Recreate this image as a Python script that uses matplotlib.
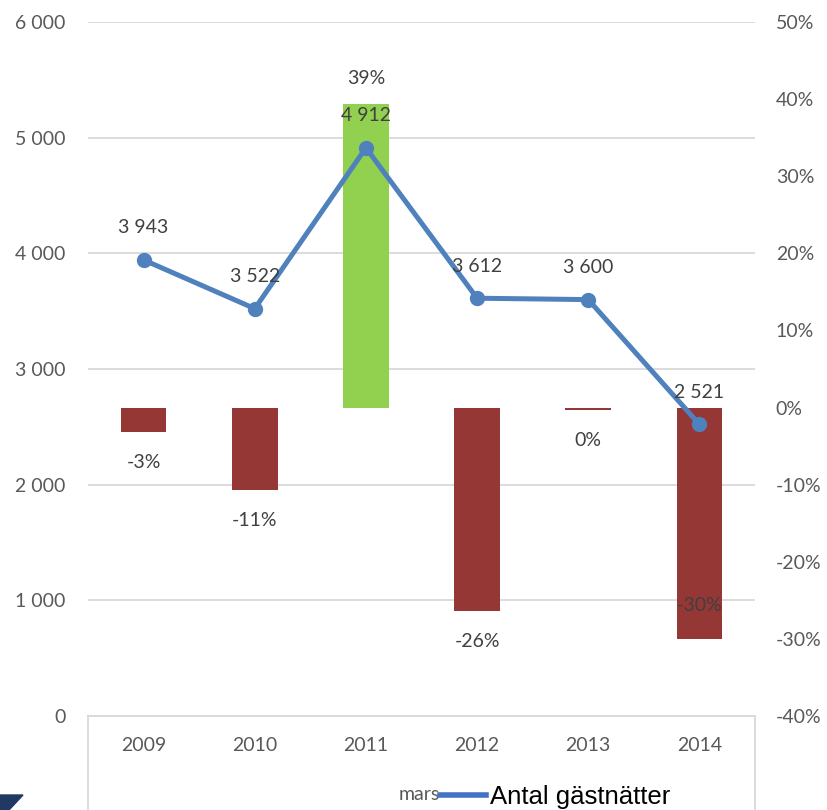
import matplotlib
matplotlib.use('Agg')
import matplotlib.pyplot as plt
from matplotlib.lines import Line2D
from matplotlib.patches import Polygon

# data
years = ['2009', '2010', '2011', '2012', '2013', '2014']
nights = [3943, 3522, 4912, 3612, 3600, 2521]
change = [-0.032, -0.107, 0.394, -0.264, -0.003, -0.300]
left_ticks = [0, 1000, 2000, 3000, 4000, 5000, 6000]
right_ticks = [-0.4, -0.3, -0.2, -0.1, 0.0, 0.1, 0.2, 0.3, 0.4, 0.5]

W, H = 827, 810
GRID = '#D9D9D9'
TICK = '#595959'
LABEL = '#404040'
plt.rcParams['font.family'] = ['Lato', 'DejaVu Sans']

fig = plt.figure(figsize=(W / 100, H / 100), dpi=100)
ax = fig.add_axes([88 / W, 1 - 716 / H, (755 - 88) / W, (716 - 22) / H])

# base axis: thousands scale, grid and left labels
ax.set_xlim(-0.5, 5.5)
ax.set_ylim(0, 6000)
ax.set_yticks(left_ticks)
ax.set_yticklabels([f'{v:,}'.replace(',', ' ') for v in left_ticks])
ax.set_xticks(range(len(years)))
ax.set_xticklabels(years)
ax.grid(axis='y', color=GRID, lw=1.3)
ax.set_axisbelow(True)
ax.tick_params(length=0, labelsize=14, labelcolor=TICK)
ax.tick_params(axis='y', pad=16)
ax.tick_params(axis='x', pad=15)

# bars: change in percent on the right axis
ax_bar = ax.twinx()
ax_bar.set_ylim(-0.4, 0.5)
ax_bar.set_yticks(right_ticks)
ax_bar.set_yticklabels([f'{round(v * 100)}%' for v in right_ticks])
ax_bar.tick_params(length=0, labelsize=14, labelcolor=TICK, pad=15)
colors = ['#92D050' if v > 0 else '#953735' for v in change]
ax_bar.bar(range(len(years)), change, width=0.41, color=colors)
for i, v in enumerate(change):
    if v > 0:
        off = 18
    elif v == min(change):
        off = 24
    else:
        off = -22
    ax_bar.annotate(f'{round(v * 100) + 0}%', (i, v), xytext=(0, off),
                    textcoords='offset points', ha='center', va='center',
                    fontsize=14, color=LABEL)

# line: number of guest nights
ax_line = ax.twinx()
ax_line.set_ylim(0, 6000)
ax_line.set_yticks([])
ax_line.plot(range(len(years)), nights, color='#4F81BD', lw=3.6,
             marker='o', ms=10)
for i, v in enumerate(nights):
    ax_line.annotate(f'{v:,}'.replace(',', ' '), (i, v), xytext=(0, 23),
                     textcoords='offset points', ha='center', va='center',
                     fontsize=14, color=LABEL)

for a in (ax, ax_bar, ax_line):
    for s in a.spines.values():
        s.set_visible(False)
ax.spines['bottom'].set_visible(True)
ax.spines['bottom'].set_color(GRID)
ax.spines['bottom'].set_linewidth(1.3)

# category box lines below the axis
for x in (88, 755):
    fig.add_artist(Line2D([x / W, x / W], [0, 1 - 716 / H],
                          transform=fig.transFigure, color=GRID, lw=1.3))

fig.text(419 / W, 1 - 794 / H, 'mars', ha='center', va='center',
         fontsize=14, color=TICK)
handle = Line2D([], [], color='#4472C4', lw=4)
fig.legend(handles=[handle], labels=['Antal gästnätter'], loc='center left',
           bbox_to_anchor=(440 / W, 1 - 797 / H), frameon=False,
           borderpad=0, borderaxespad=0, handlelength=1.8,
           handletextpad=0.15,
           prop={'family': 'Liberation Sans', 'size': 18.5})

fig.add_artist(Polygon([(0, 1 - 795 / H), (23 / W, 1 - 795 / H),
                        (9 / W, 0), (0, 0)],
                       transform=fig.transFigure, color='#1F3864'))

fig.savefig('out.png', dpi=100)
